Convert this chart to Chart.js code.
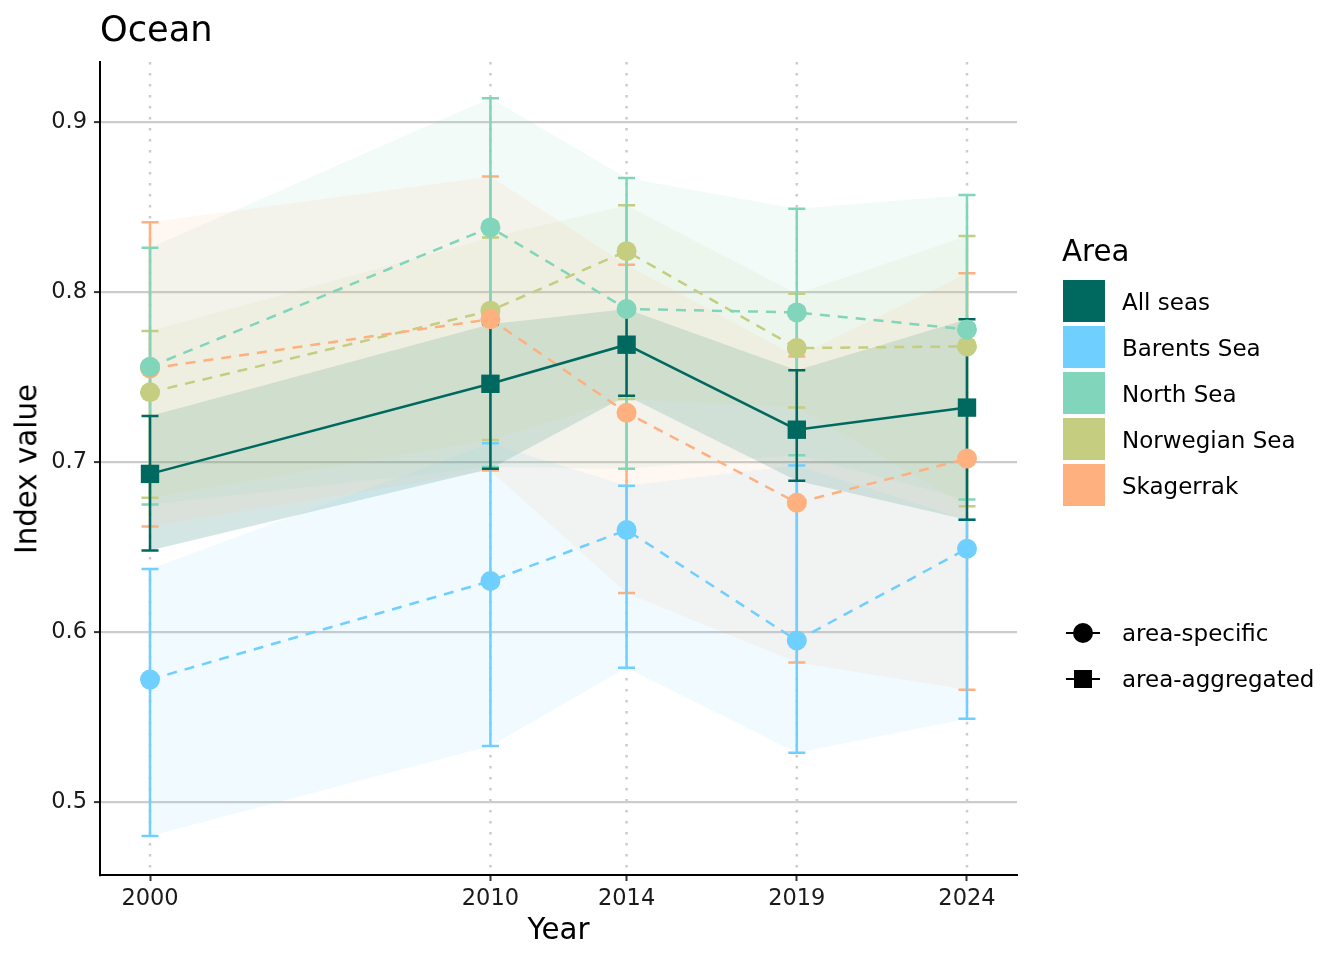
<!DOCTYPE html>
<html>
<head>
<meta charset="utf-8">
<script src="https://cdn.jsdelivr.net/npm/chart.js@4.4.1/dist/chart.umd.min.js"></script>
<style>
  body { margin: 0; background: #fff; }
  #wrap { position: relative; width: 1344px; height: 960px; font-family: "DejaVu Sans", sans-serif; color: #000; }
  canvas { position: absolute; left: 0; top: 0; }
  .t { position: absolute; line-height: 1; white-space: nowrap; }
  .sw { position: absolute; left: 1063px; width: 42px; height: 42px; }
</style>
</head>
<body>
<div id="wrap">
  <canvas id="myChart" width="1344" height="960"></canvas>
  <div class="t" style="left:100px;top:11px;font-size:35.2px">Ocean</div>
  <div class="t" style="left:558.5px;top:915px;font-size:29.3px;transform:translateX(-50%)">Year</div>
  <div class="t" style="left:27px;top:468.5px;font-size:29.3px;transform:translate(-50%,-50%) rotate(-90deg)">Index value</div>
  <div id="legend"></div>
</div>
<script>
  const years = [2000, 2010, 2014, 2019, 2024];
  const yTicks = [0.5, 0.6, 0.7, 0.8, 0.9];
  const areas = ["All seas", "Barents Sea", "North Sea", "Norwegian Sea", "Skagerrak"];
  const areaColors = ["#00695F", "#6FCFFE", "#81D5BA", "#C4CD80", "#FEB07F"];
  const shapeLabels = ["area-specific", "area-aggregated"];

  const allSeasMean = [0.693, 0.746, 0.769, 0.719, 0.732];
  const allSeasLow = [0.648, 0.696, 0.739, 0.689, 0.666];
  const allSeasHigh = [0.727, 0.781, 0.790, 0.754, 0.784];

  const barentsMean = [0.572, 0.630, 0.660, 0.595, 0.649];
  const barentsLow = [0.480, 0.533, 0.579, 0.529, 0.549];
  const barentsHigh = [0.637, 0.711, 0.686, 0.698, 0.666];

  const northMean = [0.756, 0.838, 0.790, 0.788, 0.778];
  const northLow = [0.675, 0.697, 0.696, 0.704, 0.678];
  const northHigh = [0.826, 0.914, 0.867, 0.849, 0.857];

  const norwegianMean = [0.741, 0.789, 0.824, 0.767, 0.768];
  const norwegianLow = [0.679, 0.713, 0.737, 0.732, 0.674];
  const norwegianHigh = [0.777, 0.832, 0.851, 0.799, 0.833];

  const skagerrakMean = [0.755, 0.784, 0.729, 0.676, 0.702];
  const skagerrakLow = [0.662, 0.695, 0.623, 0.582, 0.566];
  const skagerrakHigh = [0.841, 0.868, 0.816, 0.762, 0.811];

  // drawn bottom -> top: Norwegian, Skagerrak, North, Barents, All seas
  const series = [
    { i: 3, mean: norwegianMean, low: norwegianLow, high: norwegianHigh },
    { i: 4, mean: skagerrakMean, low: skagerrakLow, high: skagerrakHigh },
    { i: 2, mean: northMean, low: northLow, high: northHigh },
    { i: 1, mean: barentsMean, low: barentsLow, high: barentsHigh },
    { i: 0, mean: allSeasMean, low: allSeasLow, high: allSeasHigh, agg: true },
  ];

  function rgba(hex, a) {
    const n = parseInt(hex.slice(1), 16);
    return `rgba(${n >> 16},${(n >> 8) & 255},${n & 255},${a})`;
  }
  const pts = (vals) => years.map((x, k) => ({ x: x, y: vals[k] }));

  const datasets = [];
  series.forEach((s, k) => {
    const col = areaColors[s.i];
    datasets.push({
      label: areas[s.i],
      data: pts(s.mean),
      borderColor: col,
      backgroundColor: col,
      borderWidth: 2.5,
      borderDash: s.agg ? [] : [10, 8],
      pointStyle: s.agg ? "rect" : "circle",
      pointRadius: s.agg ? 13 : 10,
      pointBorderWidth: 0,
      pointBackgroundColor: col,
      fill: false,
      order: 5 - k,
    });
  });
  // ribbons (upper, lower filled to upper)
  series.forEach((s, k) => {
    const col = areaColors[s.i];
    datasets.push({ data: pts(s.high), borderWidth: 0, borderColor: "transparent", pointRadius: 0, fill: false, order: 20 + k });
    datasets.push({ data: pts(s.low), borderWidth: 0, borderColor: "transparent", pointRadius: 0, fill: "-1", backgroundColor: rgba(col, s.agg ? 0.17 : 0.1), order: 20 + k });
  });

  const extras = {
    id: "extras",
    beforeDraw(chart) {
      const { ctx, chartArea, scales: { x } } = chart;
      ctx.save();
      ctx.strokeStyle = "#cccccc";
      ctx.lineWidth = 2.5;
      ctx.setLineDash([2.5, 8.5]);
      years.forEach((yr) => {
        const px = x.getPixelForValue(yr);
        ctx.beginPath();
        ctx.moveTo(px, chartArea.top);
        ctx.lineTo(px, chartArea.bottom);
        ctx.stroke();
      });
      ctx.restore();
    },
    beforeDatasetsDraw(chart) {
      const { ctx, scales: { x, y } } = chart;
      ctx.save();
      ctx.lineWidth = 2.5;
      series.forEach((s) => {
        ctx.strokeStyle = areaColors[s.i];
        years.forEach((yr, k) => {
          const px = x.getPixelForValue(yr);
          const top = y.getPixelForValue(s.high[k]);
          const bot = y.getPixelForValue(s.low[k]);
          ctx.beginPath();
          ctx.moveTo(px, top); ctx.lineTo(px, bot);
          ctx.moveTo(px - 8.5, top); ctx.lineTo(px + 8.5, top);
          ctx.moveTo(px - 8.5, bot); ctx.lineTo(px + 8.5, bot);
          ctx.stroke();
        });
      });
      ctx.restore();
    },
  };

  const config = {
    type: "line",
    data: { datasets: datasets },
    options: {
      responsive: false,
      animation: false,
      events: [],
      layout: { padding: { left: 0, top: 62, right: 327, bottom: 0 } },
      plugins: { legend: { display: false }, tooltip: { enabled: false }, filler: { drawTime: "beforeDatasetsDraw" } },
      elements: { line: { tension: 0 } },
      scales: {
        x: {
          type: "linear",
          min: 1998.531,
          max: 2025.469,
          afterFit: (s) => { s.height = 85; },
          afterBuildTicks: (s) => { s.ticks = years.map((v) => ({ value: v })); },
          grid: { drawOnChartArea: false, tickLength: 6, tickColor: "#333", tickWidth: 2 },
          border: { color: "#000", width: 2 },
          ticks: { color: "#1a1a1a", font: { family: "DejaVu Sans", size: 22.5 }, padding: 5, maxRotation: 0, autoSkip: false, callback: (v) => String(v) },
        },
        y: {
          min: 0.45706,
          max: 0.93529,
          afterFit: (s) => { s.width = 100; },
          afterBuildTicks: (s) => { s.ticks = yTicks.map((v) => ({ value: v })); },
          grid: { color: "#cccccc", lineWidth: 2.2, tickLength: 6, tickColor: "#333", tickWidth: 2 },
          border: { color: "#000", width: 2 },
          ticks: { color: "#1a1a1a", font: { family: "DejaVu Sans", size: 22.5 }, padding: 7, autoSkip: false, callback: (v) => v.toFixed(1) },
        },
      },
    },
    plugins: [extras],
  };

  const myChart = new Chart(document.getElementById("myChart"), config);

  // legend
  const lg = document.getElementById("legend");
  let html = '<div class="t" style="left:1062px;top:236.5px;font-size:29.3px">Area</div>';
  areas.forEach((a, k) => {
    html += `<div class="sw" style="top:${280 + 46 * k}px;background:${areaColors[k]}"></div>`;
    html += `<div class="t" style="left:1122px;top:${291 + 46 * k}px;font-size:23px">${a}</div>`;
  });
  shapeLabels.forEach((lab, k) => {
    const cy = 633 + 46 * k;
    html += `<div style="position:absolute;left:1066px;top:${cy - 1.25}px;width:34px;height:2.5px;background:#000"></div>`;
    if (k === 0) html += `<div style="position:absolute;left:1073px;top:${cy - 10}px;width:20px;height:20px;border-radius:50%;background:#000"></div>`;
    else html += `<div style="position:absolute;left:1074px;top:${cy - 9}px;width:18px;height:18px;background:#000"></div>`;
    html += `<div class="t" style="left:1122px;top:${cy - 11.5}px;font-size:23px">${lab}</div>`;
  });
  lg.innerHTML = html;
</script>
</body>
</html>
